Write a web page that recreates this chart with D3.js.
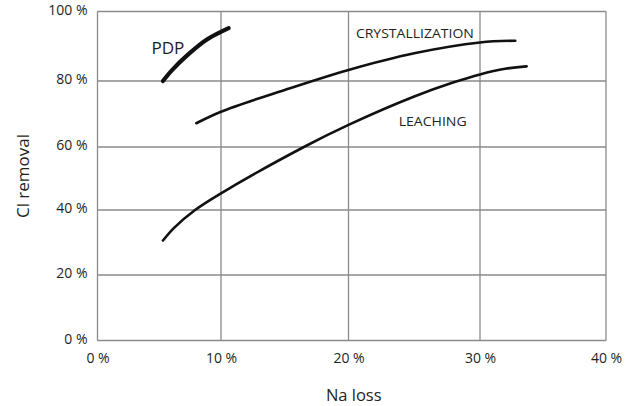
<!DOCTYPE html>
<html>
<head>
<meta charset="utf-8">
<script src="https://cdn.jsdelivr.net/npm/d3@7"></script>
<style>
  body { margin: 0; background: #fff; }
  svg text { font-family: 'Open Sans', 'Noto Sans', sans-serif; fill: #231f20; }
</style>
</head>
<body>
<div id="chart"></div>
<script>
'use strict';

// tick values (percent)
var xTicks = [0, 10, 20, 30, 40];
var yTicks = [0, 20, 40, 60, 80, 100];

// curves: Na loss (%) vs Cl removal (%)
var pdpX = [5.3, 6.0, 7.3, 8.8, 10.6];
var pdpY = [80, 83, 87.5, 91.8, 95.2];

var crystX = [8.0, 10, 15, 20, 25, 30, 32.8];
var crystY = [67.2, 70.7, 77.3, 83.2, 88, 91.1, 91.6];

var leachX = [5.3, 6.2, 7.9, 10, 16.5, 20, 25, 28, 30, 32, 33.7];
var leachY = [30.6, 34.5, 40, 45.3, 60, 66.7, 75.3, 79.6, 81.9, 83.5, 84.2];

// label name, anchor point (percent)
var labelNames = ['PDP', 'CRYSTALLIZATION', 'LEACHING'];
var labelX = [5.7, 25.05, 26.4];
var labelY = [87.9, 92.4, 66.5];

var width = 634, height = 406;

var svg = d3.select('#chart').append('svg')
  .attr('width', width)
  .attr('height', height);

// the printed grid is not quite even, so the scales follow it piece by piece
var x = d3.scaleLinear().domain(xTicks).range([97.5, 221, 348.5, 480, 606]);
var y = d3.scaleLinear().domain(yTicks).range([340.5, 275, 210, 147, 81, 11.5]);

var grid = svg.append('g').attr('class', 'grid')
  .attr('stroke', '#8a8a8a')
  .attr('stroke-width', 1.3);

grid.selectAll('line.v')
  .data(xTicks)
  .enter()
  .append('line')
    .attr('class', 'v')
    .attr('x1', function(d) { return x(d); })
    .attr('x2', function(d) { return x(d); })
    .attr('y1', y(0))
    .attr('y2', y(100));

grid.selectAll('line.h')
  .data(yTicks)
  .enter()
  .append('line')
    .attr('class', 'h')
    .attr('x1', x(0))
    .attr('x2', x(40))
    .attr('y1', function(d) { return y(d); })
    .attr('y2', function(d) { return y(d); });

// axes (labels only, the grid draws the lines)
var xAxis = svg.append('g')
  .attr('transform', 'translate(0,' + y(0) + ')')
  .call(d3.axisBottom(x).tickValues(xTicks).tickSize(0).tickPadding(13)
    .tickFormat(function(d) { return d + ' %'; }));
xAxis.select('.domain').remove();

var yAxis = svg.append('g')
  .attr('transform', 'translate(' + x(0) + ',0)')
  .call(d3.axisLeft(y).tickValues(yTicks).tickSize(0).tickPadding(10)
    .tickFormat(function(d) { return d + ' %'; }));
yAxis.select('.domain').remove();
yAxis.selectAll('text').attr('dy', '0.2em');

svg.selectAll('.tick text')
  .attr('font-size', 14)
  .attr('fill', '#231f20')
  .style('font-family', "'Open Sans', 'Noto Sans', sans-serif");

// axis titles
svg.append('text')
  .attr('x', (x(0) + x(40)) / 2 + 2)
  .attr('y', 401)
  .attr('text-anchor', 'middle')
  .attr('font-size', 16.5)
  .text('Na loss');

svg.append('text')
  .attr('transform', 'translate(29,' + (y(0) + y(100)) / 2 + ') rotate(-90)')
  .attr('text-anchor', 'middle')
  .attr('font-size', 17)
  .text('Cl removal');

// curves
var line = d3.line()
  .x(function(d) { return x(d[0]); })
  .y(function(d) { return y(d[1]); })
  .curve(d3.curveCatmullRom.alpha(0.5));

var series = [
  {xs: pdpX, ys: pdpY, w: 4.2},
  {xs: crystX, ys: crystY, w: 2.6},
  {xs: leachX, ys: leachY, w: 2.6}
];

svg.append('g').selectAll('path')
  .data(series)
  .enter()
  .append('path')
    .attr('d', function(s) { return line(d3.zip(s.xs, s.ys)); })
    .attr('fill', 'none')
    .attr('stroke', '#111')
    .attr('stroke-width', function(s) { return s.w; })
    .attr('stroke-linecap', 'round');

// curve names; the caps labels are squeezed to the printed width
var nameSize = [17, 12.5, 12.5];
var nameWidth = [33, 118, 68];

svg.append('g').selectAll('text')
  .data(labelNames)
  .enter()
  .append('text')
    .attr('x', function(d, i) { return x(labelX[i]) - nameWidth[i] / 2; })
    .attr('y', function(d, i) { return y(labelY[i]); })
    .attr('font-size', function(d, i) { return nameSize[i]; })
    .attr('textLength', function(d, i) { return nameWidth[i]; })
    .attr('lengthAdjust', 'spacingAndGlyphs')
    .text(function(d) { return d; });
</script>
</body>
</html>
